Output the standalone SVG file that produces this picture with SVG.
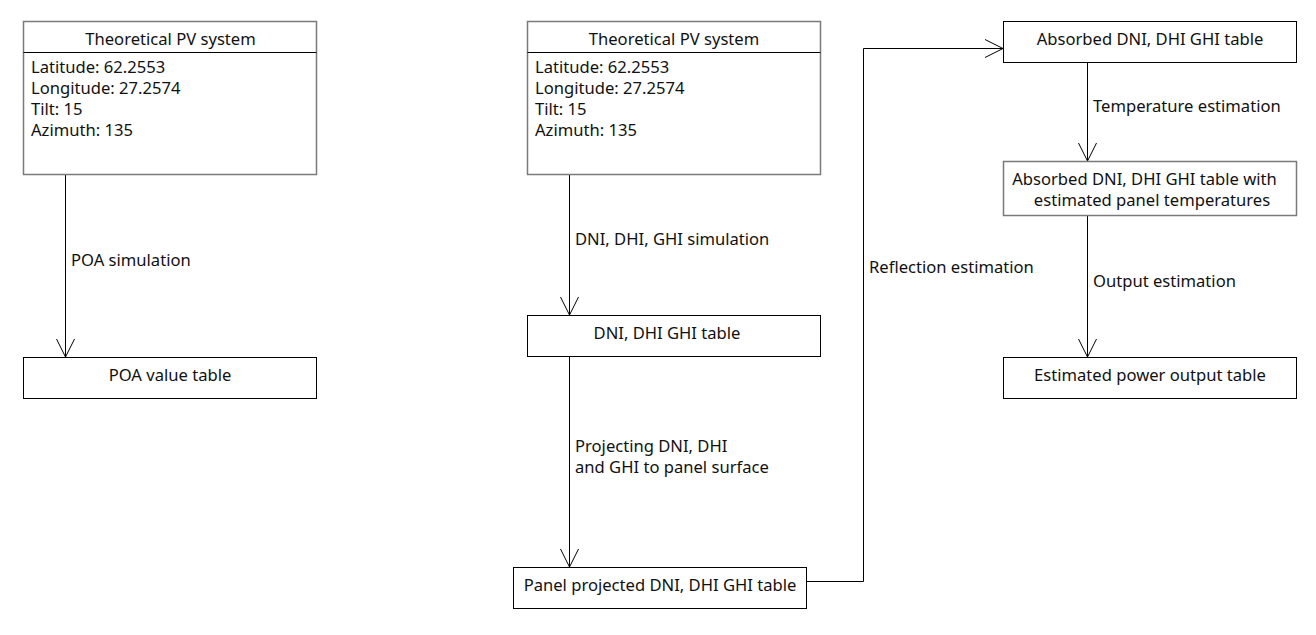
<svg xmlns="http://www.w3.org/2000/svg" width="1316" height="635" viewBox="0 0 1316 635">
<style>
text{font-family:"Noto Sans","Open Sans","DejaVu Sans",sans-serif;font-size:16.6px;fill:#111}
.c{text-anchor:middle}
.box{fill:#fff;stroke:#000;stroke-width:1}
.gbox{fill:#fff;stroke:#7a7a7a;stroke-width:1.5}
.ln{fill:none;stroke:#000;stroke-width:1}
.ah{fill:none;stroke:#000;stroke-width:1}
</style>
<rect width="1316" height="635" fill="#fff"/>
<g id="connectors">
<path class="ln" d="M65.5 175V357"/><path class="ah" d="M56.5 339L65.5 357L74.5 339"/>
<text x="71" y="266">POA simulation</text>
<path class="ln" d="M569.5 175V315"/><path class="ah" d="M560.5 297L569.5 315L578.5 297"/>
<text x="575" y="245">DNI, DHI, GHI simulation</text>
<path class="ln" d="M569.5 357V567"/><path class="ah" d="M560.5 549L569.5 567L578.5 549"/>
<text x="575" y="452">Projecting DNI, DHI</text>
<text x="575" y="473">and GHI to panel surface</text>
<path class="ln" d="M807 581.5H863.5V48.5H1003"/><path class="ah" d="M985 39.5L1003 48.5L985 57.5"/>
<text x="869" y="273">Reflection estimation</text>
<path class="ln" d="M1087.5 63V161"/><path class="ah" d="M1078.5 143L1087.5 161L1096.5 143"/>
<text x="1093" y="112">Temperature estimation</text>
<path class="ln" d="M1087.5 216V357"/><path class="ah" d="M1078.5 339L1087.5 357L1096.5 339"/>
<text x="1093" y="287">Output estimation</text>
</g>
<g id="pv1">
<rect class="gbox" x="23.5" y="21.5" width="293" height="153"/>
<path class="ln" d="M23.5 52.5H316.5"/>
<text class="c" x="170.5" y="45">Theoretical PV system</text>
<text x="31" y="73">Latitude: 62.2553</text>
<text x="31" y="94">Longitude: 27.2574</text>
<text x="31" y="115">Tilt: 15</text>
<text x="31" y="136">Azimuth: 135</text>
</g>
<g id="poa">
<rect class="box" x="23.5" y="357.5" width="293" height="41"/>
<text class="c" x="170" y="381">POA value table</text>
</g>
<g id="pv2">
<rect class="gbox" x="527.5" y="21.5" width="293" height="153"/>
<path class="ln" d="M527.5 52.5H820.5"/>
<text class="c" x="674" y="45">Theoretical PV system</text>
<text x="535" y="73">Latitude: 62.2553</text>
<text x="535" y="94">Longitude: 27.2574</text>
<text x="535" y="115">Tilt: 15</text>
<text x="535" y="136">Azimuth: 135</text>
</g>
<g id="dnitable">
<rect class="box" x="527.5" y="315.5" width="293" height="41"/>
<text class="c" x="667" y="339">DNI, DHI GHI table</text>
</g>
<g id="panelproj">
<rect class="box" x="513.5" y="567.5" width="293" height="41"/>
<text class="c" x="660" y="591">Panel projected DNI, DHI GHI table</text>
</g>
<g id="absorbed">
<rect class="box" x="1003.5" y="21.5" width="293" height="41"/>
<text class="c" x="1150" y="45">Absorbed DNI, DHI GHI table</text>
</g>
<g id="absorbedtemp">
<rect class="gbox" x="1003.5" y="161.5" width="293" height="54"/>
<text class="c" x="1144.5" y="185">Absorbed DNI, DHI GHI table with</text>
<text class="c" x="1152" y="206">estimated panel temperatures</text>
</g>
<g id="output">
<rect class="box" x="1003.5" y="357.5" width="293" height="41"/>
<text class="c" x="1150" y="381">Estimated power output table</text>
</g>
</svg>
